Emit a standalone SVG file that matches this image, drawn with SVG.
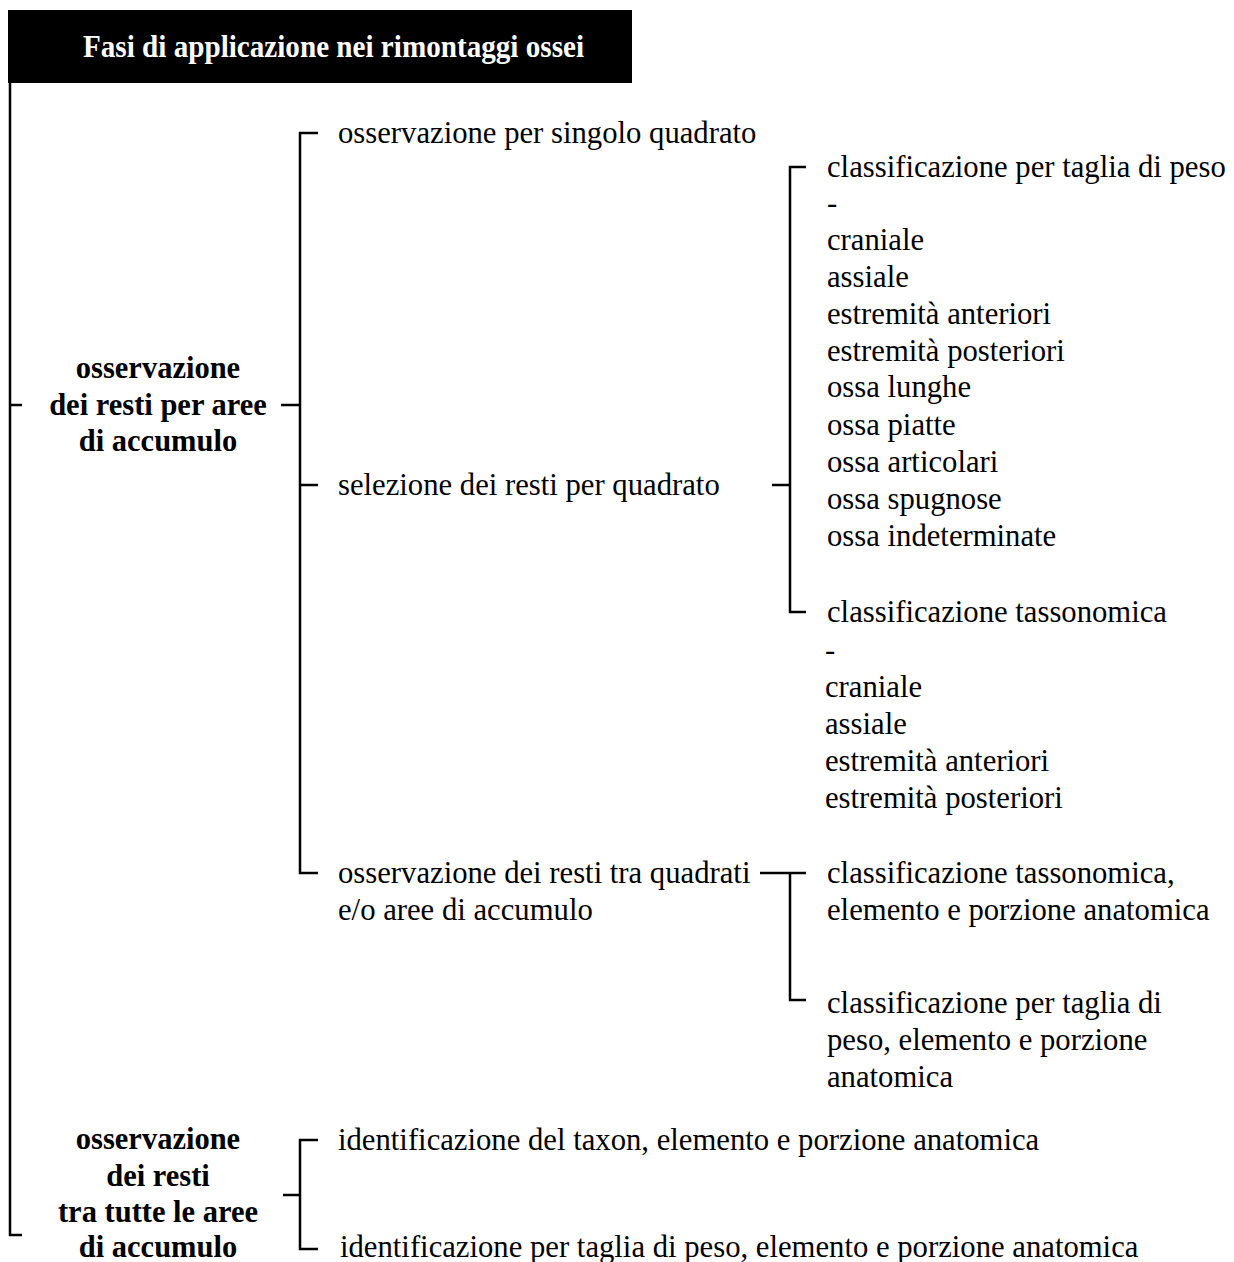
<svg xmlns="http://www.w3.org/2000/svg" width="1234" height="1262" viewBox="0 0 1234 1262">
<style>
.t{font-family:"Liberation Serif","Times New Roman",serif;font-size:30.7px;fill:#000}
.b{font-family:"Liberation Serif","Times New Roman",serif;font-size:30.5px;font-weight:bold;fill:#000;text-anchor:middle}
.ln{stroke:#000;stroke-width:2.5;fill:none}
</style>
<rect width="1234" height="1262" fill="#fff"/>
<g id="title">
<rect x="8" y="10" width="624" height="73" fill="#000"/>
<text x="83" y="57" font-family="Liberation Serif,serif" font-size="32" font-weight="bold" fill="#fff" textLength="501" lengthAdjust="spacingAndGlyphs">Fasi di applicazione nei rimontaggi ossei</text>
</g>
<g id="connectors" class="ln">
<path d="M10,83 V1235 H22"/>
<path d="M10,405 H22"/>
<path d="M281,405 H300"/>
<path d="M318,133 H300 V873 H318"/>
<path d="M300,485 H318"/>
<path d="M772,485 H790"/>
<path d="M806,167 H790 V612 H806"/>
<path d="M760,873 H806"/>
<path d="M790,873 V1000 H806"/>
<path d="M283,1195 H300"/>
<path d="M318,1140 H300 V1249 H318"/>
</g>
<g id="n-aree">
<text class="b" x="158" y="378">osservazione</text>
<text class="b" x="158" y="415">dei resti per aree</text>
<text class="b" x="158" y="451">di accumulo</text>
</g>
<g id="n-singolo"><text class="t" x="338" y="143">osservazione per singolo quadrato</text></g>
<g id="n-selezione"><text class="t" x="338" y="495">selezione dei resti per quadrato</text></g>
<g id="n-tra">
<text class="t" x="338" y="883">osservazione dei resti tra quadrati</text>
<text class="t" x="338" y="920">e/o aree di accumulo</text>
</g>
<g id="n-taglia">
<text class="t" x="827" y="177">classificazione per taglia di peso</text>
<text class="t" x="827" y="213">-</text>
<text class="t" x="827" y="250">craniale</text>
<text class="t" x="827" y="287">assiale</text>
<text class="t" x="827" y="324">estremità anteriori</text>
<text class="t" x="827" y="361">estremità posteriori</text>
<text class="t" x="827" y="397">ossa lunghe</text>
<text class="t" x="827" y="435">ossa piatte</text>
<text class="t" x="827" y="472">ossa articolari</text>
<text class="t" x="827" y="509">ossa spugnose</text>
<text class="t" x="827" y="546">ossa indeterminate</text>
</g>
<g id="n-tasso">
<text class="t" x="827" y="622">classificazione tassonomica</text>
<text class="t" x="825" y="660">-</text>
<text class="t" x="825" y="697">craniale</text>
<text class="t" x="825" y="734">assiale</text>
<text class="t" x="825" y="771">estremità anteriori</text>
<text class="t" x="825" y="808">estremità posteriori</text>
</g>
<g id="n-tasso2">
<text class="t" x="827" y="883">classificazione tassonomica,</text>
<text class="t" x="827" y="920">elemento e porzione anatomica</text>
</g>
<g id="n-taglia2">
<text class="t" x="827" y="1013">classificazione per taglia di</text>
<text class="t" x="827" y="1050">peso, elemento e porzione</text>
<text class="t" x="827" y="1087">anatomica</text>
</g>
<g id="n-tutte">
<text class="b" x="158" y="1149">osservazione</text>
<text class="b" x="158" y="1186">dei resti</text>
<text class="b" x="158" y="1222">tra tutte le aree</text>
<text class="b" x="158" y="1257">di accumulo</text>
</g>
<g id="n-taxon"><text class="t" x="338" y="1150">identificazione del taxon, elemento e porzione anatomica</text></g>
<g id="n-peso"><text class="t" x="340" y="1257">identificazione per taglia di peso, elemento e porzione anatomica</text></g>
</svg>
